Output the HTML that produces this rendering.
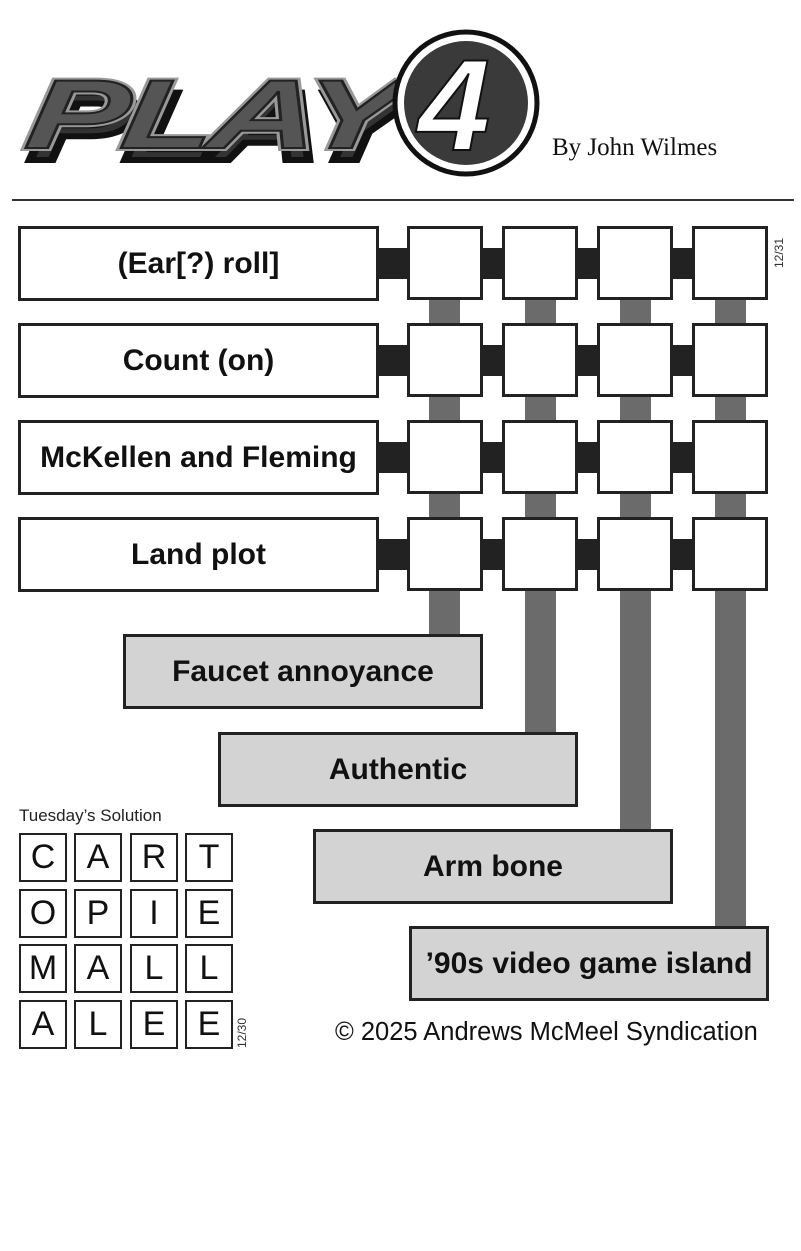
<!DOCTYPE html>
<html><head><style>
body{margin:0;width:801px;height:1251px;background:#fff;position:relative;overflow:hidden;font-family:"Liberation Sans",Arial,sans-serif}
.a{position:absolute;box-sizing:border-box}
.clue{border:3px solid #222;background:#fff;display:flex;align-items:center;justify-content:center;font-weight:bold;font-size:30px;color:#111}
.ans{border:3px solid #222;background:#d3d3d3;display:flex;align-items:center;justify-content:center;font-weight:bold;font-size:30px;color:#111}
.bx{border:3px solid #222;background:#fff;width:76px;height:74px}
.bk{background:#222;height:31px}
.gv{background:#6b6b6b;width:31px}
.sc{border:2.5px solid #222;width:48px;height:49px;display:flex;align-items:center;justify-content:center;font-size:34px;color:#111}
</style></head><body>
<svg class="a" style="left:0;top:0" width="801" height="200">
<g font-family="Liberation Sans" font-weight="bold" font-style="italic" font-size="98" transform="skewX(-8)">
<text x="50" y="160" fill="#333" stroke="#111" stroke-width="6" letter-spacing="-4" textLength="370" lengthAdjust="spacingAndGlyphs">PLAY</text>
<text x="44" y="148" fill="#555" stroke="#999" stroke-width="6" letter-spacing="-4" textLength="370" lengthAdjust="spacingAndGlyphs">PLAY</text>
<text x="44" y="148" fill="#555" stroke="#222" stroke-width="2" letter-spacing="-4" textLength="370" lengthAdjust="spacingAndGlyphs">PLAY</text>
</g>
<circle cx="466" cy="103" r="71" fill="#fff" stroke="#111" stroke-width="5"/>
<circle cx="466" cy="103" r="62" fill="#3a3a3a"/>
<text x="418" y="150" font-family="Liberation Sans" font-weight="bold" font-style="italic" font-size="130" fill="#fff" stroke="#111" stroke-width="2">4</text>
<text x="552" y="155" font-family="Liberation Serif" font-size="25" fill="#111">By John Wilmes</text>
</svg>
<div class="a" style="left:12px;top:199px;width:782px;height:2px;background:#333"></div>

<div class="a gv" style="left:429px;top:290px;height:350px"></div>
<div class="a gv" style="left:525px;top:290px;height:448px"></div>
<div class="a gv" style="left:620px;top:290px;height:545px"></div>
<div class="a gv" style="left:715px;top:290px;height:642px"></div>

<div class="a bk" style="left:370px;top:248px;width:390px"></div>
<div class="a bk" style="left:370px;top:345px;width:390px"></div>
<div class="a bk" style="left:370px;top:442px;width:390px"></div>
<div class="a bk" style="left:370px;top:539px;width:390px"></div>

<div class="a clue" style="left:18px;top:226px;width:361px;height:75px">(Ear[?) roll]</div>
<div class="a clue" style="left:18px;top:323px;width:361px;height:75px">Count (on)</div>
<div class="a clue" style="left:18px;top:420px;width:361px;height:75px">McKellen and Fleming</div>
<div class="a clue" style="left:18px;top:517px;width:361px;height:75px">Land plot</div>

<div class="a bx" style="left:407px;top:226px"></div><div class="a bx" style="left:502px;top:226px"></div><div class="a bx" style="left:597px;top:226px"></div><div class="a bx" style="left:692px;top:226px"></div>
<div class="a bx" style="left:407px;top:323px"></div><div class="a bx" style="left:502px;top:323px"></div><div class="a bx" style="left:597px;top:323px"></div><div class="a bx" style="left:692px;top:323px"></div>
<div class="a bx" style="left:407px;top:420px"></div><div class="a bx" style="left:502px;top:420px"></div><div class="a bx" style="left:597px;top:420px"></div><div class="a bx" style="left:692px;top:420px"></div>
<div class="a bx" style="left:407px;top:517px"></div><div class="a bx" style="left:502px;top:517px"></div><div class="a bx" style="left:597px;top:517px"></div><div class="a bx" style="left:692px;top:517px"></div>

<div class="a" style="left:772px;top:268px;font-size:12px;color:#333;transform:rotate(-90deg);transform-origin:left top">12/31</div>

<div class="a ans" style="left:123px;top:634px;width:360px;height:75px">Faucet annoyance</div>
<div class="a ans" style="left:218px;top:732px;width:360px;height:75px">Authentic</div>
<div class="a ans" style="left:313px;top:829px;width:360px;height:75px">Arm bone</div>
<div class="a ans" style="left:409px;top:926px;width:360px;height:75px">’90s video game island</div>

<div class="a" style="left:19px;top:806px;font-size:17px;color:#222">Tuesday’s Solution</div>
<div class="a sc" style="left:19px;top:833px">C</div><div class="a sc" style="left:74px;top:833px">A</div><div class="a sc" style="left:130px;top:833px">R</div><div class="a sc" style="left:185px;top:833px">T</div>
<div class="a sc" style="left:19px;top:889px">O</div><div class="a sc" style="left:74px;top:889px">P</div><div class="a sc" style="left:130px;top:889px">I</div><div class="a sc" style="left:185px;top:889px">E</div>
<div class="a sc" style="left:19px;top:944px">M</div><div class="a sc" style="left:74px;top:944px">A</div><div class="a sc" style="left:130px;top:944px">L</div><div class="a sc" style="left:185px;top:944px">L</div>
<div class="a sc" style="left:19px;top:1000px">A</div><div class="a sc" style="left:74px;top:1000px">L</div><div class="a sc" style="left:130px;top:1000px">E</div><div class="a sc" style="left:185px;top:1000px">E</div>
<div class="a" style="left:235px;top:1048px;font-size:12px;color:#333;transform:rotate(-90deg);transform-origin:left top">12/30</div>

<div class="a" style="left:335px;top:1018px;font-size:25.5px;color:#111">© 2025 Andrews McMeel Syndication</div>
</body></html>
